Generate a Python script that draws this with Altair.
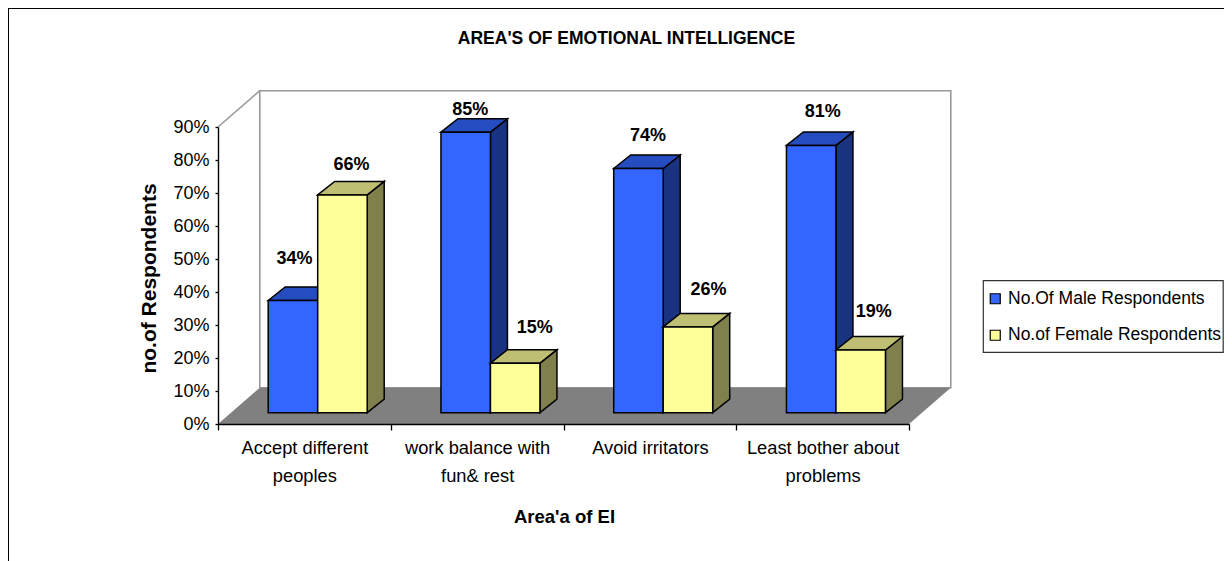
import json
import altair as alt
import pandas as pd

# ---- chart values ----
categories = [["Accept different", "peoples"], ["work balance with", "fun& rest"],
              ["Avoid irritators"], ["Least bother about", "problems"]]
series = ["No.Of Male Respondents", "No.of Female Respondents"]
male = [0.34, 0.85, 0.74, 0.81]
female = [0.66, 0.15, 0.26, 0.19]
y_ticks = [0, .1, .2, .3, .4, .5, .6, .7, .8, .9]

# ---- layout of the 3-D box, in axis units ----
W, H = 691, 297
PX_X = 4 / W
PX_Y = 0.9 / H
FLOOR_DX, FLOOR_DY = 41.8 * PX_X, 36.3 * PX_Y
BAR_DX, BAR_DY = 17 * PX_X, 13.5 * PX_Y
BASE = 11.3 * PX_Y
BAR_W = 49.5 * PX_X
BAR_START = 50.2 * PX_X
FONT = "Liberation Sans"
FS = 18

BLUE, BLUE_TOP, BLUE_SIDE = "#3366FF", "#264DBF", "#1A3380"
YEL, YEL_TOP, YEL_SIDE = "#FFFF99", "#BFBF73", "#80804D"
# label nudges (px) relative to each bar's top-front centre
nudges = {0: [(1.5, -42), (4.5, -22), (9.5, -32.5), (11.5, -33)],
          1: [(9, -29.5), (19.5, -35), (20.5, -37), (13, -38)]}

lookup = {str(i + .5): c for i, c in enumerate(categories)}
label_expr = f"({json.dumps(lookup)})[toString(datum.value)] || ''"

X_AXIS = alt.Axis(values=[0, .5, 1, 1.5, 2, 2.5, 3, 3.5, 4], title="Area'a of EI", grid=False,
                  labelExpr=label_expr, labelFont=FONT, labelFontSize=18.3, labelColor="black",
                  labelOverlap=False, labelBound=False, labelFlush=False, labelLineHeight=28,
                  labelPadding=9, labelBaseline="top",
                  tickOpacity={"expr": "datum.value % 1 == 0 ? 1 : 0"}, tickSize=6, tickColor="black",
                  tickWidth=1.3, domainColor="black", domainWidth=1.4,
                  titleFont=FONT, titleFontSize=18.5, titleFontWeight="bold", titleColor="black",
                  titleX=346, titleY=83, zindex=2)
Y_AXIS = alt.Axis(values=y_ticks, format=".0%", title="no.of Respondents", grid=False,
                  labelFont=FONT, labelFontSize=FS, labelColor="black", labelPadding=6,
                  tickSize=3, tickColor="black", tickWidth=1.3,
                  domainColor="black", domainWidth=1.4,
                  titleFont=FONT, titleFontSize=21, titleFontWeight="bold", titleColor="black",
                  titleX=-59, titleY=151, zindex=2)

X = lambda: alt.X("x:Q", scale=alt.Scale(domain=[0, 4], nice=False, zero=False, padding=0), axis=X_AXIS)
Y = lambda: alt.Y("y:Q", scale=alt.Scale(domain=[0, 0.9], nice=False, zero=False, padding=0), axis=Y_AXIS)
X2 = alt.X2("x2:Q")
Y2 = alt.Y2("y2:Q")


def poly(rows, fill, stroke=None, width=1.5):
    kw = dict(fill=fill, orient="vertical", opacity=1)
    if stroke:
        kw.update(stroke=stroke, strokeWidth=width, strokeJoin="miter")
    return alt.Chart(pd.DataFrame(rows)).mark_area(**kw).encode(X(), Y(), Y2, detail="id:N")


# frame of the chart picture (runs off the page to the right and bottom)
one = pd.DataFrame({"a": [0]})
frame = [
    alt.Chart(one).mark_rule(color="black", strokeWidth=2).encode(
        x=alt.value(-210), x2=alt.value(1006), y=alt.value(-119)),
    alt.Chart(one).mark_rule(color="black", strokeWidth=2).encode(
        x=alt.value(-210), y=alt.value(-119), y2=alt.value(434)),
]
legend_box = alt.Chart(one).mark_rect(fill="white", stroke="#333333", strokeWidth=1.2).encode(
    x=alt.value(765.3), x2=alt.value(1005.2), y=alt.value(153.7), y2=alt.value(225.3))

# back wall, left-wall edge, floor
wall_df = pd.DataFrame({"x": [FLOOR_DX], "x2": [4 + FLOOR_DX], "y": [FLOOR_DY], "y2": [0.9 + FLOOR_DY]})
wall = alt.Chart(wall_df).mark_rect(fill="white", stroke="#999999", strokeWidth=1.6).encode(X(), X2, Y(), Y2)
edge_df = pd.DataFrame({"x": [0], "x2": [FLOOR_DX], "y": [0.9], "y2": [0.9 + FLOOR_DY]})
edge = alt.Chart(edge_df).mark_rule(color="#999999", strokeWidth=1.6).encode(X(), X2, Y(), Y2)
floor = poly([
    {"id": "f", "x": 0, "y": 0, "y2": 0},
    {"id": "f", "x": FLOOR_DX, "y": FLOOR_DY, "y2": 0},
    {"id": "f", "x": 4, "y": FLOOR_DY, "y2": 0},
    {"id": "f", "x": 4 + FLOOR_DX, "y": FLOOR_DY, "y2": FLOOR_DY},
], "#808080")

# bars
bar_layers, label_layers = [], []
palette = [(male, BLUE, BLUE_TOP, BLUE_SIDE), (female, YEL, YEL_TOP, YEL_SIDE)]
for s, (vals, face, top, side) in enumerate(palette):
    side_rows, top_rows, fronts = [], [], []
    for c, v in enumerate(vals):
        xl = c + BAR_START + s * BAR_W
        xr = xl + BAR_W
        t = BASE + v
        side_rows += [
            {"id": c, "x": xr, "y": t, "y2": BASE},
            {"id": c, "x": xr + BAR_DX, "y": t + BAR_DY, "y2": BASE + BAR_DY},
        ]
        top_rows += [
            {"id": c, "x": xl, "y": t, "y2": t},
            {"id": c, "x": xl + BAR_DX, "y": t + BAR_DY, "y2": t},
            {"id": c, "x": xr, "y": t + BAR_DY, "y2": t},
            {"id": c, "x": xr + BAR_DX, "y": t + BAR_DY, "y2": t + BAR_DY},
        ]
        fronts.append({"x": xl, "x2": xr, "y": BASE, "y2": t, "series": series[s]})
        dx, dy = nudges[s][c]
        label_layers.append(
            alt.Chart(pd.DataFrame({"x": [(xl + xr) / 2], "y": [t], "v": [v]}))
            .mark_text(font=FONT, fontSize=FS, fontWeight="bold", color="black", dx=dx, dy=dy, baseline="middle")
            .encode(X(), Y(), text=alt.Text("v:Q", format=".0%"))
        )
    bar_layers += [poly(side_rows, side, "black"), poly(top_rows, top, "black")]
    bar_layers.append(
        alt.Chart(pd.DataFrame(fronts)).mark_rect(stroke="black", strokeWidth=1.5).encode(
            X(), X2, Y(), Y2,
            color=alt.Color("series:N", scale=alt.Scale(domain=series, range=[BLUE, YEL]),
                            legend=alt.Legend(
                                orient="none", legendX=768.5, legendY=163, title=None, symbolType="square",
                                symbolSize=100, symbolStrokeColor="black", symbolStrokeWidth=1.2,
                                labelFont=FONT, labelFontSize=17.5, labelColor="black", labelLimit=300,
                                padding=0, rowPadding=17.5, symbolOffset=0, labelOffset=4)),
        )
    )

chart = alt.layer(*frame, legend_box, wall, edge, floor, *bar_layers, *label_layers).properties(
    width=W, height=H,
    autosize=alt.AutoSizeParams(type="none"),
    padding={"left": 210, "top": 119, "right": 315, "bottom": 137},
    title=alt.TitleParams("AREA'S OF EMOTIONAL INTELLIGENCE", anchor="middle", dx=63, dy=44,
                          font=FONT, fontSize=17.5, fontWeight="bold", color="black"),
    background="white",
).configure_view(stroke=None)

chart.save("out.html", embed_options={"renderer": "svg", "actions": False})
